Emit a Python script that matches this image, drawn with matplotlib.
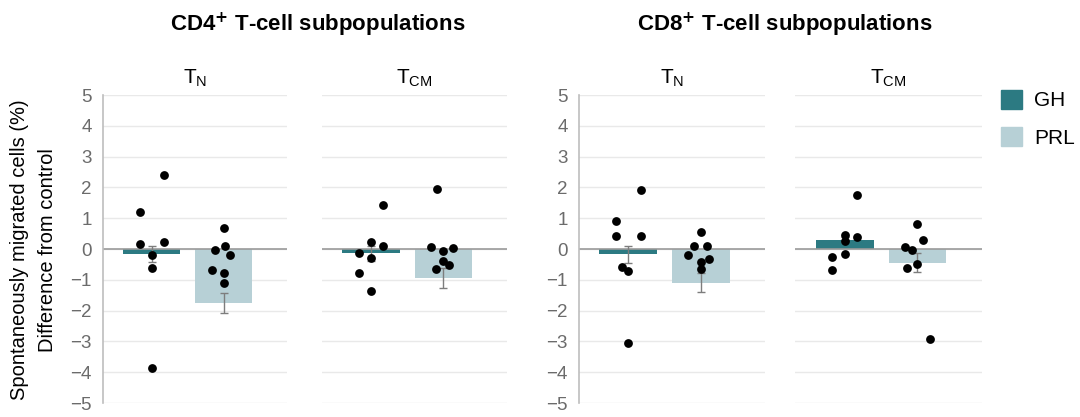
import numpy as np
import matplotlib.pyplot as plt
from matplotlib.patches import Patch

plt.rcParams['font.family'] = ['Liberation Sans', 'DejaVu Sans']

# mean difference from control, per subpopulation: [GH, PRL]
groups = ["CD4+ T_N", "CD4+ T_CM", "CD8+ T_N", "CD8+ T_CM"]
bar_gh = [-0.16, -0.14, -0.17, 0.30]
bar_prl = [-1.75, -0.94, -1.09, -0.44]
err_gh = [0.26, 0.24, 0.28, 0.08]
err_prl = [0.32, 0.31, 0.32, 0.30]

# individual donors
pts_gh = [
    [1.20, 2.41, 0.16, 0.23, -0.20, -0.62, -3.86],
    [1.44, 0.23, 0.09, -0.13, -0.29, -0.77, -1.36],
    [1.90, 0.91, 0.43, 0.43, -0.58, -0.72, -3.04],
    [1.76, 0.46, 0.40, 0.25, -0.16, -0.25, -0.67],
]
pts_prl = [
    [0.67, -0.02, 0.09, -0.20, -0.68, -0.77, -1.12],
    [1.95, 0.06, 0.04, -0.08, -0.38, -0.53, -0.66],
    [0.55, 0.10, 0.10, -0.18, -0.43, -0.31, -0.65],
    [0.82, 0.29, 0.05, -0.02, -0.48, -0.62, -2.92],
]
# horizontal spread of the dots (fraction of panel width)
jit_gh = [
    [-0.064, 0.064, -0.064, 0.064, 0, 0, 0],
    [0.065, 0, 0.065, -0.065, 0, -0.065, 0],
    [0.066, -0.065, -0.065, 0.066, -0.036, 0, 0],
    [0.065, 0, 0.065, 0, 0, -0.065, -0.065],
]
jit_prl = [
    [0, -0.046, 0.008, 0.035, -0.06, 0, 0],
    [-0.035, -0.065, 0.054, 0, 0, 0.033, -0.038],
    [0, -0.037, 0.032, -0.07, 0, 0.044, 0],
    [0, 0.032, -0.065, -0.032, 0, -0.054, 0.065],
]

subtitles = ["T$_\\mathregular{N}$", "T$_\\mathregular{CM}$", "T$_\\mathregular{N}$", "T$_\\mathregular{CM}$"]

c_gh = "#2c7a82"
c_prl = "#b7d0d6"

W, H = 1080, 417
fig = plt.figure(figsize=(W / 100, H / 100), dpi=100)

panels = [(103, 287), (322, 507), (579, 765), (795, 982)]
top, bot = 95, 403

for i, (x0, x1) in enumerate(panels):
    ax = fig.add_axes([x0 / W, (H - bot) / H, (x1 - x0) / W, (bot - top) / H])
    ax.set_xlim(0, 1)
    ax.set_ylim(-5, 5)
    ax.set_yticks(np.arange(-5, 6))
    ax.yaxis.grid(True, color="#e9e9e9", lw=1)
    ax.set_axisbelow(True)
    for s in ["top", "right", "bottom"]:
        ax.spines[s].set_visible(False)
    ax.set_xticks([])
    if i % 2 == 0:
        ax.spines["left"].set_color("#bdbdbd")
        ax.spines["left"].set_linewidth(1.2)
        ax.tick_params(axis="y", length=0, labelsize=13.5, labelcolor="#6b6b6b", pad=8)
    else:
        ax.spines["left"].set_visible(False)
        ax.tick_params(axis="y", length=0, labelleft=False)

    ax.axhline(0, color="#9a9a9a", lw=1.2, zorder=2)
    xg, xp = 0.265, 0.655
    ax.bar([xg], [bar_gh[i]], width=0.31, color=c_gh, zorder=1)
    ax.bar([xp], [bar_prl[i]], width=0.31, color=c_prl, zorder=1)
    ax.errorbar([xg], [bar_gh[i]], yerr=[err_gh[i]], fmt="none", ecolor="#7d7d7d",
                elinewidth=1, capsize=3, capthick=1, zorder=3)
    ax.errorbar([xp], [bar_prl[i]], yerr=[err_prl[i]], fmt="none", ecolor="#7d7d7d",
                elinewidth=1, capsize=3, capthick=1, zorder=3)
    ax.scatter(xg + np.array(jit_gh[i]), pts_gh[i], s=40, color="black", zorder=4, linewidths=0)
    ax.scatter(xp + np.array(jit_prl[i]), pts_prl[i], s=40, color="black", zorder=4, linewidths=0)
    ax.set_title(subtitles[i], fontsize=15, pad=8)

fig.text(318 / W, 1 - 25 / H, "CD4$^{\\mathbf{+}}$ T-cell subpopulations", ha="center", va="center",
         fontsize=16, fontweight="bold")
fig.text(785 / W, 1 - 25 / H, "CD8$^{\\mathbf{+}}$ T-cell subpopulations", ha="center", va="center",
         fontsize=16, fontweight="bold")

fig.text(20 / W, 1 - 250 / H, "Spontaneously migrated cells (%)", rotation=90,
         ha="center", va="center", fontsize=14.5)
fig.text(48 / W, 1 - 250 / H, "Difference from control", rotation=90,
         ha="center", va="center", fontsize=14.5)

handles = [Patch(color=c_gh, label="GH"), Patch(color=c_prl, label="PRL")]
fig.legend(handles=handles, loc="upper left", bbox_to_anchor=(1001 / W, 1 - 90 / H),
           frameon=False, fontsize=15, handlelength=1.0, handleheight=1.0,
           handletextpad=0.6, labelspacing=0.8, borderpad=0, borderaxespad=0)

fig.savefig("out.png", dpi=100)
